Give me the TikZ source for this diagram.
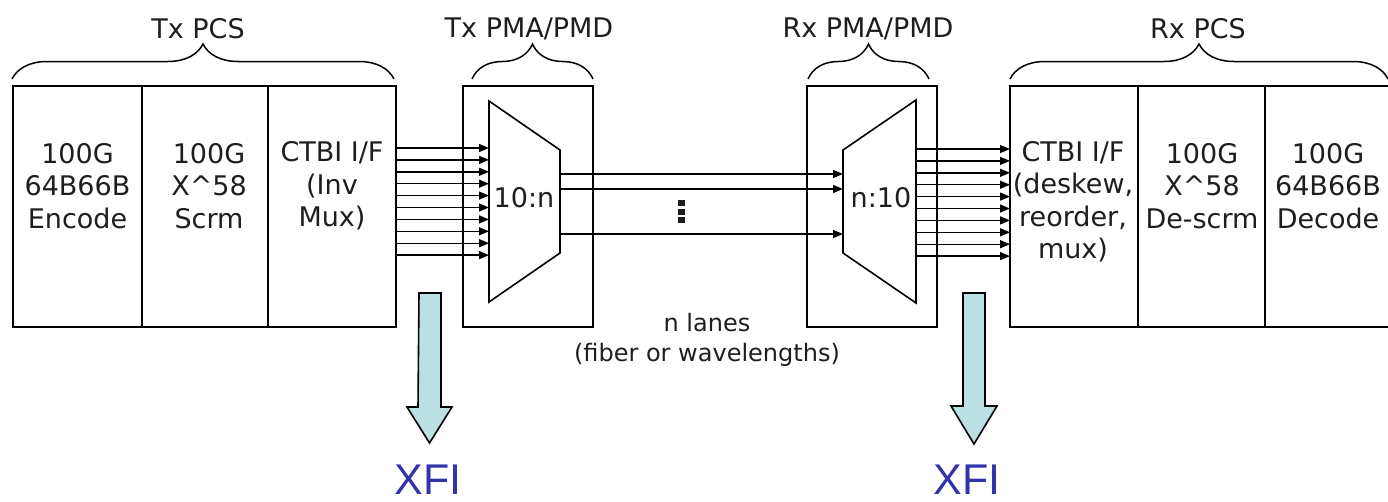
\documentclass[tikz,border=0pt]{standalone}
\usepackage{fontspec}
\setmainfont{DejaVu Sans}
\newfontfamily\xfifont{Liberation Sans}
\usetikzlibrary{arrows.meta,decorations.pathreplacing}
\definecolor{xfiblue}{RGB}{51,51,170}
\definecolor{xfifill}{RGB}{187,224,227}
\definecolor{txtgray}{RGB}{30,30,30}
\begin{document}
\begin{tikzpicture}[x=1pt,y=-1pt,
  cell/.style={draw, line width=1.6pt, minimum height=241pt, inner sep=0pt, outer sep=0pt},
  lbl/.style={font=\fontsize{27}{32.5}\selectfont, align=center, inner sep=0pt, text=txtgray},
  title/.style={font=\fontsize{27}{32}\selectfont, inner sep=0pt, anchor=base, text=txtgray},
  small/.style={font=\fontsize{24}{29}\selectfont, inner sep=0pt, anchor=base, text=txtgray},
  bracestyle/.style={decorate, decoration={brace, amplitude=35pt}, line width=1.5pt},
  lane/.style={line width=1.4pt, -{Triangle[length=10pt,width=8pt]}},
  muxshape/.style={draw, line width=1.6pt, line join=miter},
  xfiarrow/.style={draw, line width=1.6pt, fill=xfifill, line join=miter},
  xfilbl/.style={font=\xfifont\fontsize{43}{48}\selectfont, text=xfiblue, anchor=base, inner sep=0pt}
]
\useasboundingbox (0,0) rectangle (1388,501);
\clip (0,0) rectangle (1388,501);

% Tx PCS cells
\node[cell, minimum width=129pt] (txenc) at (77.5,206.5) {};
\node[cell, minimum width=126pt] (txscr) at (205,206.5) {};
\node[cell, minimum width=128pt] (txctbi) at (332,206.5) {};
% PMA/PMD boxes
\node[cell, minimum width=130pt] (txpma) at (528,206.5) {};
\node[cell, minimum width=130pt] (rxpma) at (872,206.5) {};
% Rx PCS cells
\node[cell, minimum width=128pt] (rxctbi) at (1074,206.5) {};
\node[cell, minimum width=127pt] (rxscr) at (1201.5,206.5) {};
\node[cell, minimum width=127pt] (rxdec) at (1328.5,206.5) {};

% cell texts
\node[lbl] (txenct) at (77.5,186) {100G\\64B66B\\Encode};
\node[lbl] (txscrt) at (209,186) {100G\\X\textasciicircum 58\\Scrm};
\node[lbl] (txctbit) at (332,186) {CTBI I/F\\(Inv\\Mux)};
\node[lbl] (rxctbit) at (1073,202) {CTBI I/F\\(deskew,\\reorder,\\mux)};
\node[lbl] (rxscrt) at (1202,186) {100G\\X\textasciicircum 58\\De-scrm};
\node[lbl] (rxdect) at (1328,186) {100G\\64B66B\\Decode};

% titles
\node[title] (txpcst) at (198,38) {Tx PCS};
\node[title] (txpmat) at (529,37) {Tx PMA/PMD};
\node[title] (rxpmat) at (868,37) {Rx PMA/PMD};
\node[title] (rxpcst) at (1198,38) {Rx PCS};

% braces
\draw[bracestyle] ([xshift=-1pt,yshift=7pt]txenc.north west) -- ([xshift=-2pt,yshift=7pt]txctbi.north east);
\draw[bracestyle] ([xshift=9pt,yshift=7pt]txpma.north west) -- ([yshift=7pt]txpma.north east);
\draw[bracestyle] ([xshift=1pt,yshift=7pt]rxpma.north west) -- ([xshift=-8pt,yshift=7pt]rxpma.north east);
\draw[bracestyle] ([yshift=7pt]rxctbi.north west) -- ([xshift=-4pt,yshift=7pt]rxdec.north east);

% muxes
\coordinate (txm1) at (489,101);
\coordinate (txm2) at (560,150);
\coordinate (txm3) at (560,253);
\coordinate (txm4) at (489,302);
\draw[muxshape] (txm1) -- (txm2) -- (txm3) -- (txm4) -- cycle;
\node[lbl] (txmuxt) at (524,198) {10:n};

\coordinate (rxm1) at (843,150);
\coordinate (rxm2) at (916,100);
\coordinate (rxm3) at (916,303);
\coordinate (rxm4) at (843,253);
\draw[muxshape] (rxm1) -- (rxm2) -- (rxm3) -- (rxm4) -- cycle;
\node[lbl] (rxmuxt) at (881,198) {n:10};

% Tx lanes into mux
\foreach \i in {0,...,9} {
  \coordinate (ts\i) at (396,148+11.9*\i);
  \coordinate (te\i) at (489,148+11.9*\i);
  \draw[lane] (ts\i) -- (te\i);
}
% n lanes between muxes
\foreach \i/\y in {0/174,1/189,2/234} {
  \coordinate (ls\i) at (560,\y);
  \coordinate (le\i) at (843,\y);
  \draw[lane] (ls\i) -- (le\i);
}
% Rx lanes out of demux
\foreach \i in {0,...,9} {
  \coordinate (rs\i) at (916,149+11.9*\i);
  \coordinate (re\i) at (1010,149+11.9*\i);
  \draw[lane] (rs\i) -- (re\i);
}

% vertical dots
\fill[txtgray] (678,200) rectangle (685,206);
\fill[txtgray] (678,208.5) rectangle (685,214.5);
\fill[txtgray] (678,217) rectangle (685,223);

% lanes caption
\node[small] (lanes1) at (707,331.5) {n lanes};
\node[small] (lanes2) at (707,361) {(fiber or wavelengths)};

% XFI arrows
\coordinate (xfiL) at (419,293);
\draw[xfiarrow] (xfiL) -- ++(22,0) -- ++(0,114) -- ++(11,0) -- ++(-22.5,36) -- ++(-22.5,-36) -- ++(11,0) -- cycle;
\coordinate (xfiR) at (963,293);
\draw[xfiarrow] (xfiR) -- ++(22,0) -- ++(0,113) -- ++(12,0) -- ++(-23,38) -- ++(-23,-38) -- ++(12,0) -- cycle;
\node[xfilbl] (xfil) at (428,494) {XFI};
\node[xfilbl] (xfir) at (967,494) {XFI};
\end{tikzpicture}
\end{document}
